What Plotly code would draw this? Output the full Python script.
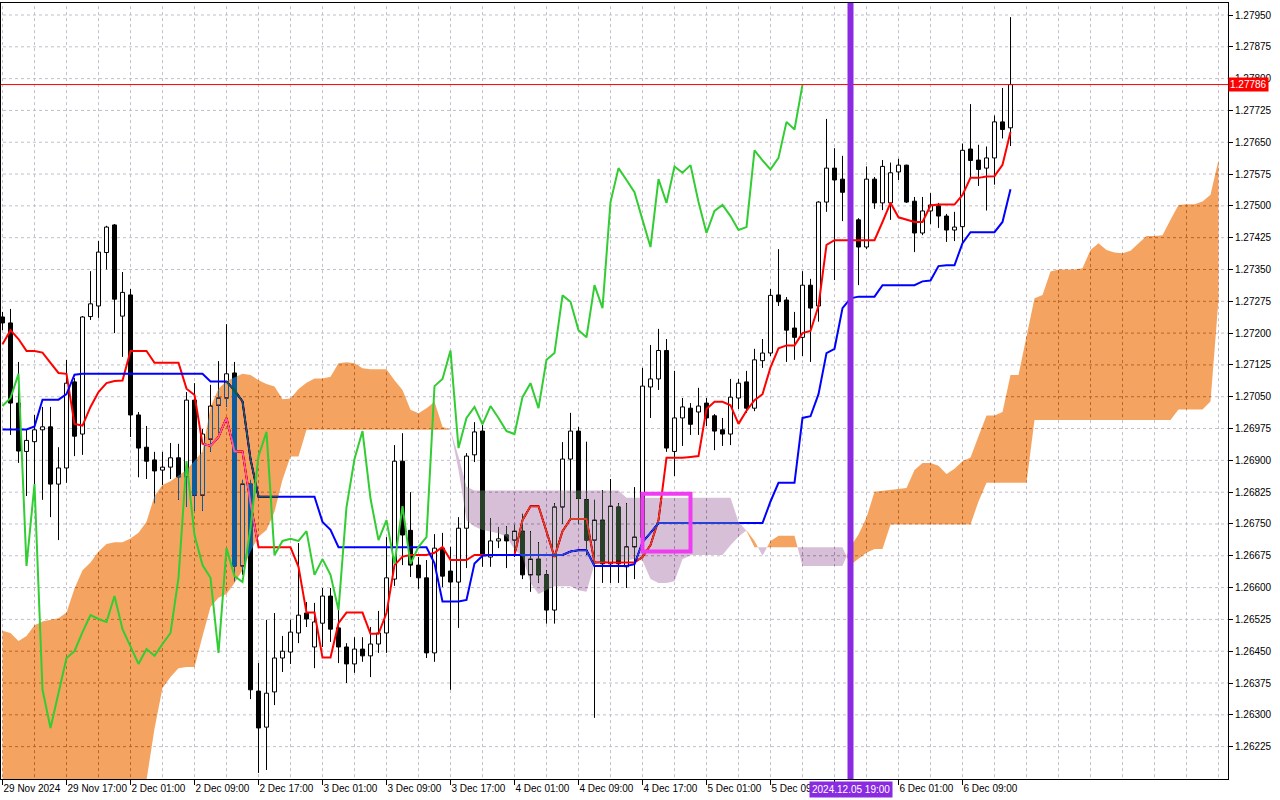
import plotly.graph_objects as go

# ---------------- data (GBPUSD H1) ----------------
open_ = [
    1.27238, 1.27224, 1.27035, 1.26921, 1.26944, 1.26972, 1.26979, 1.26844, 1.26882, 1.27085,
    1.26962, 1.27239, 1.27264, 1.27390, 1.27455, 1.27240, 1.27290, 1.27007, 1.26931, 1.26901,
    1.26877, 1.26884, 1.26906, 1.26861, 1.27042, 1.26818, 1.26950, 1.27030, 1.27047, 1.27106,
    1.26651, 1.26844, 1.26356, 1.26271, 1.26354, 1.26434, 1.26448, 1.26493, 1.26540, 1.26460,
    1.26516, 1.26580, 1.26505, 1.26460, 1.26420, 1.26455, 1.26439, 1.26467, 1.26493, 1.26620,
    1.26898, 1.26735, 1.26653, 1.26623, 1.26446, 1.26693, 1.26639, 1.26613, 1.26740, 1.26913,
    1.26969, 1.26672, 1.26710, 1.26724, 1.26712, 1.26733, 1.26630, 1.26667, 1.26630, 1.26547,
    1.26790, 1.26903, 1.26969, 1.26807, 1.26712, 1.26759, 1.26656, 1.26790, 1.26649, 1.26696,
    1.26719, 1.27073, 1.27092, 1.27159, 1.26921, 1.27000, 1.27023, 1.27014, 1.27035, 1.27005,
    1.26972, 1.26962, 1.27047, 1.27085, 1.27023, 1.27135, 1.27153, 1.27290, 1.27278, 1.27212,
    1.27190, 1.27313, 1.27264, 1.27509, 1.27589, 1.27563, 1.27532, 1.27467, 1.27403, 1.27563,
    1.27507, 1.27507, 1.27580, 1.27596, 1.27511, 1.27436, 1.27488, 1.27500, 1.27476, 1.27443,
    1.27451, 1.27634, 1.27608, 1.27589, 1.27613, 1.27698, 1.27684,
]
high_ = [
    1.27250, 1.27257, 1.27132, 1.26972, 1.27007, 1.27026, 1.27026, 1.26931, 1.27137, 1.27094,
    1.27240, 1.27346, 1.27417, 1.27453, 1.27457, 1.27344, 1.27304, 1.27014, 1.26981, 1.26920,
    1.26920, 1.26941, 1.26939, 1.27061, 1.27082, 1.26974, 1.27078, 1.27134, 1.27221, 1.27132,
    1.26854, 1.26854, 1.26422, 1.26524, 1.26540, 1.26486, 1.26524, 1.26705, 1.26566, 1.26564,
    1.26599, 1.26599, 1.26547, 1.26469, 1.26483, 1.26483, 1.26507, 1.26545, 1.26719, 1.26936,
    1.26964, 1.26825, 1.26672, 1.26665, 1.26726, 1.26729, 1.26696, 1.26766, 1.26917, 1.26990,
    1.26983, 1.26764, 1.26743, 1.26745, 1.26748, 1.26774, 1.26733, 1.26707, 1.26641, 1.26799,
    1.26943, 1.27012, 1.26979, 1.26944, 1.26807, 1.26830, 1.26856, 1.26799, 1.26799, 1.26837,
    1.27118, 1.27172, 1.27210, 1.27186, 1.27111, 1.27047, 1.27035, 1.27071, 1.27047, 1.27009,
    1.27000, 1.27092, 1.27092, 1.27111, 1.27163, 1.27186, 1.27304, 1.27398, 1.27285, 1.27250,
    1.27346, 1.27328, 1.27511, 1.27705, 1.27636, 1.27618, 1.27561, 1.27471, 1.27593, 1.27568,
    1.27608, 1.27602, 1.27611, 1.27597, 1.27521, 1.27521, 1.27530, 1.27507, 1.27481, 1.27486,
    1.27647, 1.27740, 1.27644, 1.27640, 1.27713, 1.27778, 1.27945,
]
low_ = [
    1.27207, 1.26960, 1.26894, 1.26816, 1.26816, 1.26807, 1.26766, 1.26712, 1.26847, 1.26910,
    1.26913, 1.27231, 1.27236, 1.27350, 1.27200, 1.27144, 1.26955, 1.26860, 1.26856, 1.26799,
    1.26842, 1.26856, 1.26807, 1.26790, 1.26781, 1.26781, 1.26920, 1.26964, 1.27026, 1.26615,
    1.26630, 1.26337, 1.26163, 1.26170, 1.26323, 1.26401, 1.26420, 1.26469, 1.26507, 1.26410,
    1.26460, 1.26472, 1.26422, 1.26375, 1.26399, 1.26425, 1.26389, 1.26446, 1.26446, 1.26604,
    1.26653, 1.26625, 1.26597, 1.26434, 1.26425, 1.26601, 1.26359, 1.26505, 1.26646, 1.26896,
    1.26649, 1.26649, 1.26693, 1.26646, 1.26672, 1.26620, 1.26590, 1.26611, 1.26515, 1.26515,
    1.26750, 1.26759, 1.26750, 1.26677, 1.26293, 1.26611, 1.26611, 1.26611, 1.26599, 1.26620,
    1.26712, 1.27000, 1.27066, 1.26920, 1.26863, 1.26934, 1.26960, 1.26960, 1.26981, 1.26924,
    1.26934, 1.26936, 1.27021, 1.27012, 1.27016, 1.27118, 1.27146, 1.27264, 1.27132, 1.27137,
    1.27146, 1.27132, 1.27227, 1.27486, 1.27325, 1.27464, 1.27420, 1.27313, 1.27398, 1.27493,
    1.27490, 1.27467, 1.27561, 1.27507, 1.27391, 1.27431, 1.27457, 1.27448, 1.27415, 1.27417,
    1.27415, 1.27566, 1.27547, 1.27489, 1.27550, 1.27659, 1.27641,
]
close_ = [
    1.27224, 1.27035, 1.26922, 1.26947, 1.26972, 1.26979, 1.26844, 1.26882, 1.27082, 1.26957,
    1.27238, 1.27269, 1.27391, 1.27450, 1.27280, 1.27296, 1.27007, 1.26929, 1.26898, 1.26875,
    1.26884, 1.26906, 1.26861, 1.27042, 1.26818, 1.26962, 1.27028, 1.27047, 1.27104, 1.26651,
    1.26844, 1.26359, 1.26269, 1.26351, 1.26434, 1.26450, 1.26495, 1.26535, 1.26526, 1.26519,
    1.26580, 1.26502, 1.26460, 1.26420, 1.26455, 1.26439, 1.26467, 1.26493, 1.26623, 1.26898,
    1.26724, 1.26653, 1.26623, 1.26446, 1.26693, 1.26627, 1.26613, 1.26740, 1.26910, 1.26967,
    1.26677, 1.26710, 1.26715, 1.26710, 1.26733, 1.26630, 1.26667, 1.26630, 1.26547, 1.26790,
    1.26903, 1.26969, 1.26810, 1.26712, 1.26759, 1.26656, 1.26792, 1.26656, 1.26696, 1.26719,
    1.27075, 1.27092, 1.27159, 1.26929, 1.27000, 1.27026, 1.26985, 1.27028, 1.27000, 1.26969,
    1.26962, 1.27049, 1.27082, 1.27023, 1.27137, 1.27153, 1.27289, 1.27274, 1.27207, 1.27190,
    1.27313, 1.27259, 1.27509, 1.27589, 1.27561, 1.27532, 1.27467, 1.27403, 1.27563, 1.27507,
    1.27593, 1.27578, 1.27596, 1.27509, 1.27436, 1.27488, 1.27502, 1.27476, 1.27443, 1.27450,
    1.27631, 1.27607, 1.27586, 1.27613, 1.27698, 1.27680, 1.27786,
]
tenkan_sen = [
    1.27174, 1.27207, 1.27186, 1.27158, 1.27158, 1.27154, 1.27130, 1.27106, 1.27104, 1.26986,
    1.26982, 1.27026, 1.27061, 1.27082, 1.27087, 1.27088, 1.27158, 1.27158, 1.27158, 1.27130,
    1.27130, 1.27130, 1.27130, 1.27069, 1.27054, 1.26939, 1.26934, 1.26955, 1.27000, 1.26921,
    1.26921, 1.26799, 1.26695, 1.26695, 1.26695, 1.26695, 1.26695, 1.26649, 1.26541, 1.26541,
    1.26435, 1.26435, 1.26516, 1.26541, 1.26541, 1.26541, 1.26491, 1.26491, 1.26540, 1.26653,
    1.26673, 1.26677, 1.26677, 1.26677, 1.26682, 1.26696, 1.26665, 1.26665, 1.26665, 1.26677,
    1.26677, 1.26677, 1.26677, 1.26677, 1.26677, 1.26759, 1.26792, 1.26792, 1.26729, 1.26672,
    1.26733, 1.26762, 1.26762, 1.26762, 1.26659, 1.26659, 1.26659, 1.26659, 1.26659, 1.26659,
    1.26672, 1.26700, 1.26759, 1.26906, 1.26906, 1.26906, 1.26908, 1.26910, 1.27021, 1.27038,
    1.27038, 1.27030, 1.26986, 1.27017, 1.27042, 1.27056, 1.27119, 1.27164, 1.27171, 1.27171,
    1.27200, 1.27205, 1.27264, 1.27408, 1.27419, 1.27419, 1.27419, 1.27419, 1.27419, 1.27419,
    1.27462, 1.27507, 1.27473, 1.27467, 1.27462, 1.27462, 1.27501, 1.27503, 1.27503, 1.27503,
    1.27526, 1.27566, 1.27566, 1.27569, 1.27570, 1.27597, 1.27674,
]
kijun_sen = [
    1.26973, 1.26973, 1.26973, 1.26973, 1.26980, 1.27043, 1.27043, 1.27043, 1.27056, 1.27102,
    1.27104, 1.27104, 1.27104, 1.27104, 1.27104, 1.27104, 1.27104, 1.27104, 1.27104, 1.27104,
    1.27104, 1.27104, 1.27104, 1.27104, 1.27104, 1.27104, 1.27086, 1.27086, 1.27086, 1.27065,
    1.27039, 1.26903, 1.26814, 1.26814, 1.26814, 1.26814, 1.26814, 1.26814, 1.26814, 1.26814,
    1.26755, 1.26736, 1.26695, 1.26695, 1.26695, 1.26695, 1.26695, 1.26695, 1.26695, 1.26695,
    1.26695, 1.26695, 1.26695, 1.26695, 1.26657, 1.26567, 1.26567, 1.26567, 1.26571, 1.26657,
    1.26675, 1.26677, 1.26677, 1.26677, 1.26677, 1.26677, 1.26677, 1.26677, 1.26677, 1.26677,
    1.26677, 1.26685, 1.26688, 1.26688, 1.26651, 1.26651, 1.26651, 1.26651, 1.26651, 1.26655,
    1.26707, 1.26729, 1.26752, 1.26752, 1.26752, 1.26752, 1.26752, 1.26752, 1.26752, 1.26752,
    1.26752, 1.26752, 1.26752, 1.26752, 1.26752, 1.26752, 1.26803, 1.26847, 1.26847, 1.26847,
    1.27000, 1.27004, 1.27056, 1.27153, 1.27163, 1.27259, 1.27282, 1.27286, 1.27286, 1.27286,
    1.27313, 1.27313, 1.27313, 1.27313, 1.27313, 1.27322, 1.27324, 1.27358, 1.27360, 1.27360,
    1.27412, 1.27438, 1.27438, 1.27438, 1.27438, 1.27462, 1.27539,
]
# Senkou spans run 26 bars past the last candle
senkou_span_a = [
    1.26498, 1.26493, 1.26474, 1.26486, 1.26511, 1.26520, 1.26524, 1.26528, 1.26541, 1.26598,
    1.26641, 1.26659, 1.26685, 1.26703, 1.26707, 1.26707, 1.26716, 1.26729, 1.26755, 1.26816,
    1.26842, 1.26851, 1.26864, 1.26877, 1.26899, 1.26921, 1.27026, 1.27069, 1.27087, 1.27095,
    1.27104, 1.27101, 1.27089, 1.27080, 1.27074, 1.27044, 1.27046, 1.27068, 1.27083, 1.27093,
    1.27093, 1.27097, 1.27129, 1.27131, 1.27129, 1.27117, 1.27115, 1.27115, 1.27115, 1.27089,
    1.27066, 1.27019, 1.27011, 1.27023, 1.27038, 1.26979, 1.26972, 1.26877, 1.26759, 1.26744,
    1.26736, 1.26732, 1.26728, 1.26720, 1.26690, 1.26672, 1.26611, 1.26585, 1.26594, 1.26603,
    1.26603, 1.26603, 1.26594, 1.26590, 1.26655, 1.26659, 1.26663, 1.26663, 1.26663, 1.26668,
    1.26663, 1.26620, 1.26611, 1.26611, 1.26615, 1.26667, 1.26676, 1.26677, 1.26677, 1.26677,
    1.26677, 1.26700, 1.26720, 1.26735, 1.26710, 1.26675, 1.26710, 1.26722, 1.26722, 1.26722,
    1.26651, 1.26651, 1.26651, 1.26651, 1.26651, 1.26651, 1.26696, 1.26725, 1.26765, 1.26826,
    1.26828, 1.26830, 1.26832, 1.26835, 1.26877, 1.26894, 1.26894, 1.26887, 1.26868, 1.26880,
    1.26898, 1.26907, 1.26957, 1.27006, 1.27006, 1.27014, 1.27101, 1.27101, 1.27192, 1.27282,
    1.27290, 1.27345, 1.27350, 1.27350, 1.27350, 1.27353, 1.27396, 1.27412, 1.27396, 1.27390,
    1.27388, 1.27394, 1.27412, 1.27429, 1.27429, 1.27431, 1.27467, 1.27502, 1.27504, 1.27504,
    1.27510, 1.27526, 1.27608,
]
senkou_span_b = [
    1.26120, 1.26120, 1.26120, 1.26120, 1.26120, 1.26120, 1.26120, 1.26120, 1.26120, 1.26120,
    1.26120, 1.26120, 1.26120, 1.26120, 1.26120, 1.26120, 1.26120, 1.26120, 1.26146, 1.26267,
    1.26363, 1.26389, 1.26410, 1.26413, 1.26413, 1.26485, 1.26554, 1.26576, 1.26585, 1.26611,
    1.26641, 1.26685, 1.26720, 1.26736, 1.26779, 1.26854, 1.26909, 1.26909, 1.26972, 1.26972,
    1.26972, 1.26972, 1.26972, 1.26972, 1.26972, 1.26972, 1.26972, 1.26972, 1.26972, 1.26972,
    1.26972, 1.26972, 1.26972, 1.26972, 1.26972, 1.26972, 1.26972, 1.26909, 1.26838, 1.26829,
    1.26829, 1.26829, 1.26829, 1.26829, 1.26829, 1.26829, 1.26829, 1.26829, 1.26829, 1.26829,
    1.26829, 1.26829, 1.26829, 1.26829, 1.26829, 1.26829, 1.26829, 1.26829, 1.26812, 1.26812,
    1.26812, 1.26812, 1.26812, 1.26812, 1.26812, 1.26812, 1.26812, 1.26812, 1.26812, 1.26812,
    1.26812, 1.26812, 1.26755, 1.26734, 1.26695, 1.26695, 1.26695, 1.26695, 1.26695, 1.26695,
    1.26695, 1.26695, 1.26695, 1.26695, 1.26695, 1.26695, 1.26654, 1.26668, 1.26682, 1.26691,
    1.26691, 1.26749, 1.26749, 1.26749, 1.26749, 1.26749, 1.26749, 1.26749, 1.26749, 1.26749,
    1.26749, 1.26749, 1.26803, 1.26847, 1.26847, 1.26847, 1.26847, 1.26847, 1.26847, 1.26995,
    1.26995, 1.26995, 1.26995, 1.26995, 1.26995, 1.26995, 1.26995, 1.26995, 1.26995, 1.26995,
    1.26995, 1.26995, 1.26995, 1.26995, 1.26995, 1.26995, 1.26995, 1.27020, 1.27020, 1.27020,
    1.27020, 1.27039, 1.27278,
]
CHIKOU_SHIFT = 26

x_tick_bars = [0, 8, 16, 24, 32, 40, 48, 56, 64, 72, 80, 88, 96, 104, 112, 120]
x_tick_labels = [
    "29 Nov 2024", "29 Nov 17:00", "2 Dec 01:00", "2 Dec 09:00", "2 Dec 17:00",
    "3 Dec 01:00", "3 Dec 09:00", "3 Dec 17:00", "4 Dec 01:00", "4 Dec 09:00",
    "4 Dec 17:00", "5 Dec 01:00", "5 Dec 09:00", "5 Dec 17:00", "6 Dec 01:00",
    "6 Dec 09:00",
]
y_ticks = [
    1.26225, 1.26300, 1.26375, 1.26450, 1.26525, 1.26600, 1.26675, 1.26750,
    1.26825, 1.26900, 1.26975, 1.27050, 1.27125, 1.27200, 1.27275, 1.27350,
    1.27425, 1.27500, 1.27575, 1.27650, 1.27725, 1.27800, 1.27875, 1.27950,
]
bid_price = 1.27786
event_bar = 106
event_label = "2024.12.05 19:00"
box_bars = (80, 86)
box_prices = (1.26685, 1.26821)

# ---------------- styles ----------------
FONT = "Liberation Sans"
GRID = "#C3BFCB"
KUMO_UP = "#F4A460"     # SandyBrown
KUMO_DN = "#D8BFD8"     # Thistle


def complement(hex_color):
    v = int(hex_color[1:], 16) ^ 0xFFFFFF
    return "#%06X" % v


X_MIN, X_MAX = -0.1875, 153.1875
Y_MIN, Y_MAX = 1.261487, 1.279783
BODY_HALF = 0.25

n = len(close_)
bars = list(range(n))
fig = go.Figure()

# canvas inside the plot group (backdrop for the cloud blending)
fig.add_trace(go.Scatter(
    x=[X_MIN - 5, X_MAX + 5, X_MAX + 5, X_MIN - 5, X_MIN - 5],
    y=[Y_MIN - 0.01, Y_MIN - 0.01, Y_MAX + 0.01, Y_MAX + 0.01, Y_MIN - 0.01],
    fill="toself", fillcolor="white", mode="lines", line=dict(width=0),
    hoverinfo="skip", name="canvas"))

# grid
gx, gy = [], []
for k in range(0, int(X_MAX) + 1, 4):
    gx += [k, k, None]
    gy += [Y_MIN - 0.01, Y_MAX + 0.01, None]
for p in y_ticks:
    gx += [X_MIN - 5, X_MAX + 5, None]
    gy += [p, p, None]
fig.add_trace(go.Scatter(x=gx, y=gy, mode="lines",
                         line=dict(color=GRID, width=1, dash="3px,3px"),
                         hoverinfo="skip", name="grid"))

# wicks
wx, wy = [], []
for k in bars:
    wx += [k, k, None]
    wy += [low_[k], high_[k], None]
fig.add_trace(go.Scatter(x=wx, y=wy, mode="lines", line=dict(color="black", width=1),
                         hoverinfo="skip", name="wicks"))

# bodies
ux, uy, dx, dy = [], [], [], []
for k in bars:
    o, c = open_[k], close_[k]
    xs = [k - BODY_HALF, k + BODY_HALF, k + BODY_HALF, k - BODY_HALF, k - BODY_HALF, None]
    ys = [o, o, c, c, o, None]
    if c >= o:
        ux += xs; uy += ys
    else:
        dx += xs; dy += ys
fig.add_trace(go.Scatter(x=ux, y=uy, mode="lines", fill="toself", fillcolor="white",
                         line=dict(color="black", width=1), hoverinfo="skip", name="bull"))
fig.add_trace(go.Scatter(x=dx, y=dy, mode="lines", fill="toself", fillcolor="black",
                         line=dict(color="black", width=1), hoverinfo="skip", name="bear"))

# Tenkan / Kijun
fig.add_trace(go.Scatter(x=bars, y=tenkan_sen, mode="lines",
                         line=dict(color="#FF0000", width=2), hoverinfo="skip", name="Tenkan-sen"))
fig.add_trace(go.Scatter(x=bars, y=kijun_sen, mode="lines",
                         line=dict(color="#0000FF", width=2), hoverinfo="skip", name="Kijun-sen"))


# Kumo (cloud) split into runs where span A is above / below span B
def kumo_runs(a, b):
    out = {True: ([], []), False: ([], [])}

    def flush(sign, ups, dns):
        xs = [p[0] for p in ups] + [p[0] for p in reversed(dns)] + [ups[0][0], None]
        ys = [p[1] for p in ups] + [p[1] for p in reversed(dns)] + [ups[0][1], None]
        out[sign][0].extend(xs)
        out[sign][1].extend(ys)

    sign, ups, dns = None, [], []
    for i in range(len(a)):
        d = a[i] - b[i]
        s = d >= 0
        if sign is None:
            sign, ups, dns = s, [(i, a[i])], [(i, b[i])]
            continue
        if s != sign:
            d0 = a[i - 1] - b[i - 1]
            t = d0 / (d0 - d)
            xc = i - 1 + t
            yc = a[i - 1] + t * (a[i] - a[i - 1])
            ups.append((xc, yc)); dns.append((xc, yc))
            flush(sign, ups, dns)
            sign, ups, dns = s, [(xc, yc)], [(xc, yc)]
        ups.append((i, a[i])); dns.append((i, b[i]))
    flush(sign, ups, dns)
    return out


runs = kumo_runs(senkou_span_a, senkou_span_b)
fig.add_trace(go.Scatter(x=runs[True][0], y=runs[True][1], mode="lines", fill="toself",
                         fillcolor=complement(KUMO_UP), line=dict(width=0),
                         hoverinfo="skip", name="Kumo bullish"))
fig.add_trace(go.Scatter(x=runs[False][0], y=runs[False][1], mode="lines", fill="toself",
                         fillcolor=complement(KUMO_DN), line=dict(width=0),
                         hoverinfo="skip", name="Kumo bearish"))

# Chikou span: close plotted 26 bars back
fig.add_trace(go.Scatter(x=[k - CHIKOU_SHIFT for k in bars[CHIKOU_SHIFT:]],
                         y=close_[CHIKOU_SHIFT:], mode="lines",
                         line=dict(color="#32CD32", width=2), hoverinfo="skip", name="Chikou Span"))

# the time tag of the vertical line covers the axis label that sits under it
shown_tick_text = [("" if abs(b - event_bar) < 4 else t)
                   for b, t in zip(x_tick_bars, x_tick_labels)]

fig.update_layout(
    width=1280, height=800,
    margin=dict(l=1, r=52, t=3, b=21),
    paper_bgcolor="white", plot_bgcolor="white",
    showlegend=False, hovermode=False,
    font=dict(family=FONT, size=10, color="black"),
    xaxis=dict(range=[X_MIN, X_MAX], showgrid=False, zeroline=False,
               showline=True, mirror=True, linecolor="black", linewidth=1,
               tickmode="array", tickvals=x_tick_bars, ticktext=shown_tick_text,
               ticks="outside", ticklen=5, tickcolor="black", tickangle=0,
               ticklabelposition="outside right", tickfont=dict(size=10),
               ticklabeloverflow="allow"),
    yaxis=dict(range=[Y_MIN, Y_MAX], side="right", showgrid=False, zeroline=False,
               showline=True, mirror=True, linecolor="black", linewidth=1,
               tickmode="array", tickvals=y_ticks, ticktext=["%.5f" % v for v in y_ticks],
               ticks="outside", ticklen=4, tickcolor="black", tickfont=dict(size=10)),
    shapes=[
        dict(type="line", xref="paper", x0=0, x1=1, yref="y", y0=bid_price, y1=bid_price,
             line=dict(color="#FF0000", width=1)),
        dict(type="line", xref="x", x0=event_bar, x1=event_bar, yref="paper", y0=0, y1=1,
             line=dict(color="#8A2BE2", width=6)),
        dict(type="rect", xref="x", x0=box_bars[0], x1=box_bars[1], yref="y",
             y0=box_prices[0], y1=box_prices[1], line=dict(color="#F03CF0", width=4)),
    ],
    annotations=[
        dict(xref="x", x=event_bar, yref="paper", y=0, yanchor="top", xanchor="center",
             yshift=-2, text=event_label, showarrow=False, bgcolor="#8A2BE2",
             font=dict(color="white", size=10, family=FONT), borderpad=2),
        dict(xref="paper", x=1, xanchor="left", yref="y", y=bid_price, yanchor="middle",
             text="%.5f" % bid_price, showarrow=False, bgcolor="#FF0000",
             font=dict(color="white", size=10, family=FONT), borderpad=1),
    ],
)

post_js = """
document.body.style.margin = '0';
var gd = document.getElementById('{plot_id}');
function blendCloud() {
  var groups = gd.querySelectorAll('.scatterlayer .trace');
  for (var i = 0; i < gd.data.length; i++) {
    var nm = gd.data[i].name;
    if ((nm === 'Kumo bullish' || nm === 'Kumo bearish') && groups[i]) {
      groups[i].style.mixBlendMode = 'difference';
    }
  }
}
blendCloud();
if (gd.on) { gd.on('plotly_afterplot', blendCloud); }
"""

fig.write_html("out.html", post_script=post_js, config={"displayModeBar": False})
